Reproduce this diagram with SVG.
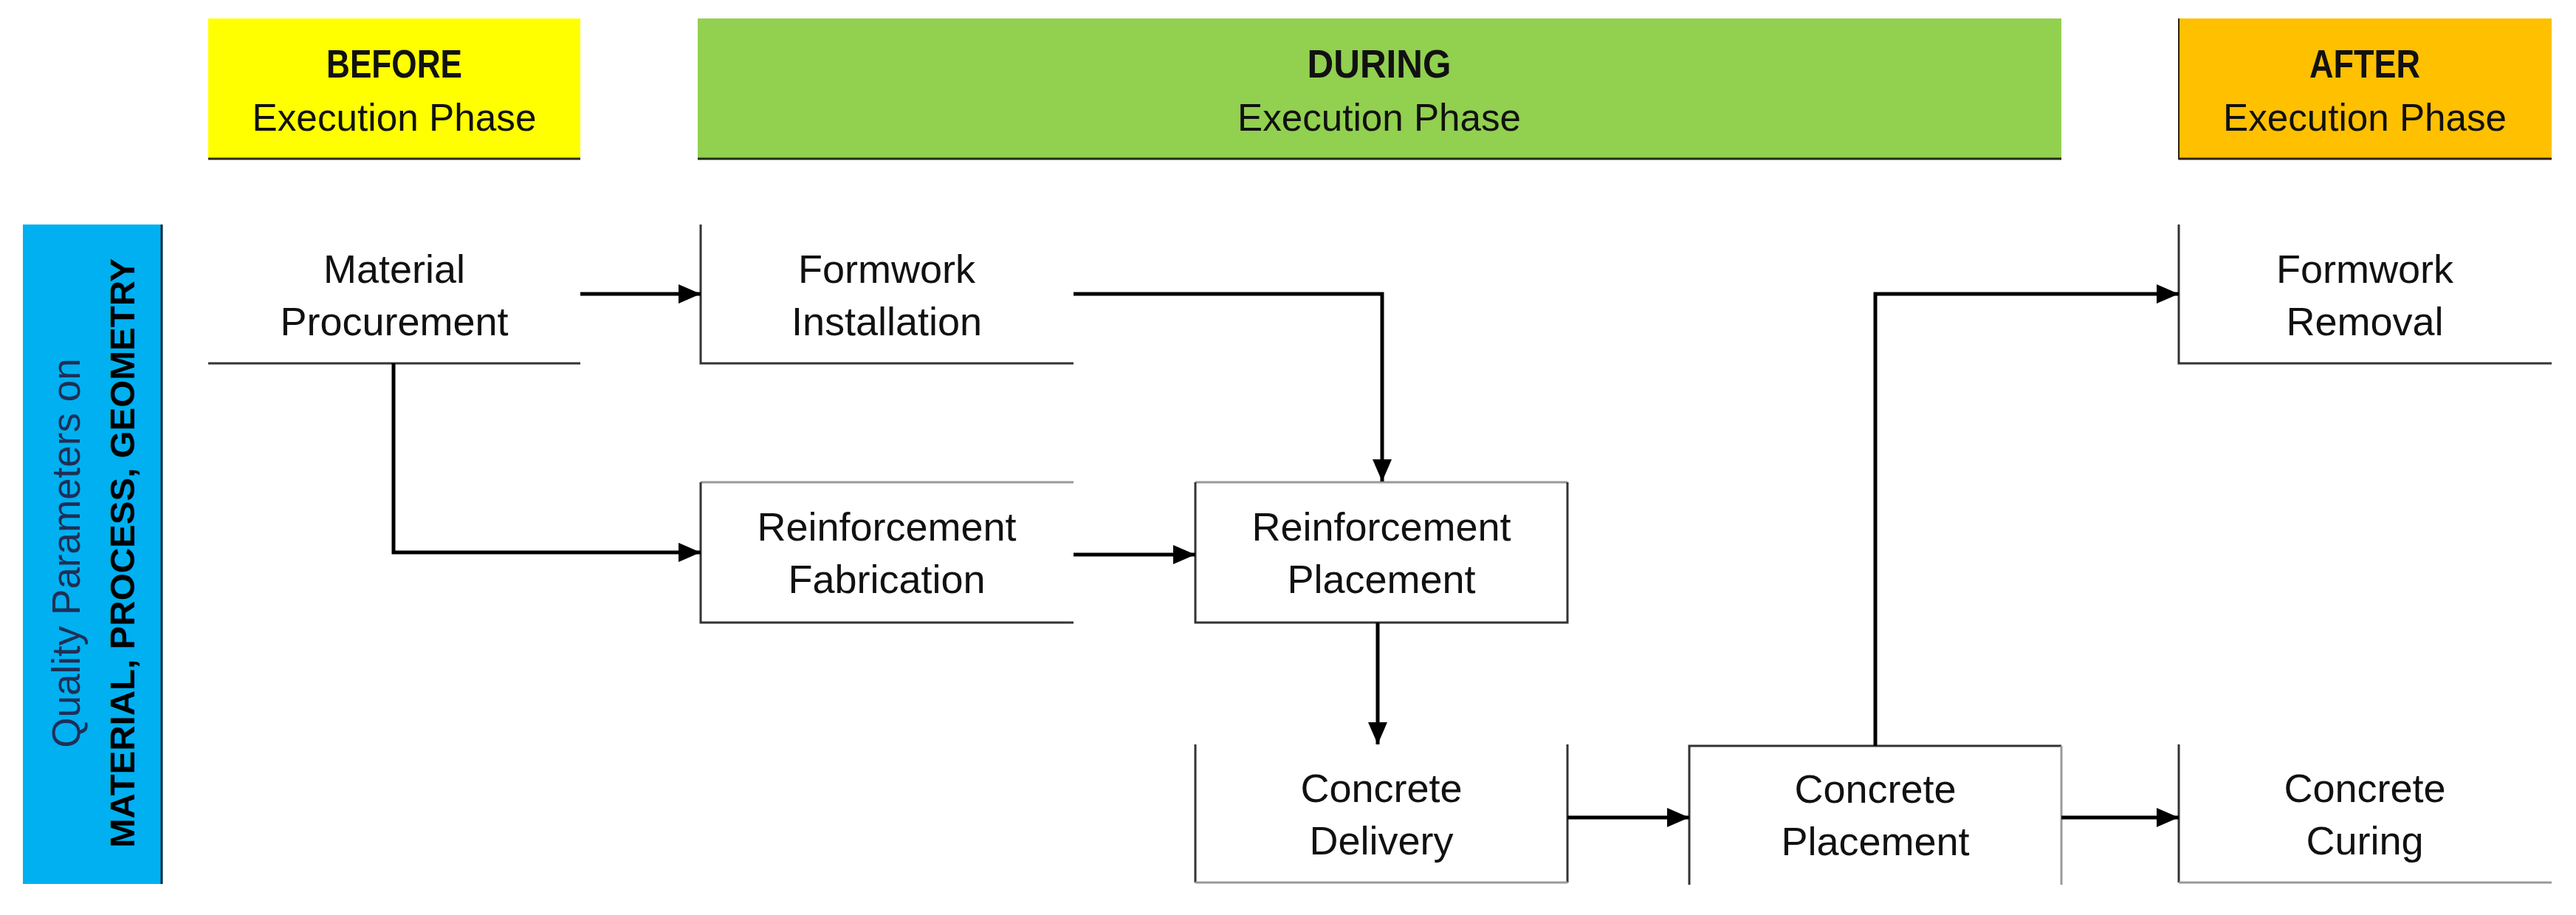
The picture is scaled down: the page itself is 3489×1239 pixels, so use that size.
<svg xmlns="http://www.w3.org/2000/svg" width="3489" height="1239" viewBox="0 0 3489 1239">
<style>
  .node text { font-family: "Liberation Sans", Arial, sans-serif; font-size: 54px; fill: #111; text-anchor: middle; }
  .hdr-title { font-family: "Liberation Sans", Arial, sans-serif; font-size: 54px; font-weight: bold; fill: #111; text-anchor: middle; }
  .hdr-sub { font-family: "Liberation Sans", Arial, sans-serif; font-size: 52px; fill: #111; text-anchor: middle; }
  .edge { fill: none; stroke: #333; stroke-width: 3; }
  .edge-light { fill: none; stroke: #9a9a9a; stroke-width: 3; }
  .conn { fill: none; stroke: #000; stroke-width: 5; }
  .side1 { font-family: "Liberation Sans", Arial, sans-serif; font-size: 53px; fill: #1f2f55; text-anchor: middle; }
  .side2 { font-family: "Liberation Sans", Arial, sans-serif; font-size: 47px; font-weight: bold; fill: #000; text-anchor: middle; }
</style>
<defs>
  <marker id="arrow" markerUnits="userSpaceOnUse" markerWidth="32" markerHeight="28" refX="30" refY="13" orient="auto">
    <path d="M0,0 L30,13 L0,26 Z" fill="#000"/>
  </marker>
</defs>
<rect width="3489" height="1239" fill="#ffffff"/>

<g id="header-before">
  <rect x="282" y="25" width="504" height="191" fill="#FFFF00"/>
  <line x1="282" y1="215" x2="786" y2="215" stroke="#2a2a10" stroke-width="3"/>
  <text class="hdr-title" x="534" y="105" textLength="184" lengthAdjust="spacingAndGlyphs">BEFORE</text>
  <text class="hdr-sub" x="534" y="177" textLength="385" lengthAdjust="spacingAndGlyphs">Execution Phase</text>
</g>
<g id="header-during">
  <rect x="945" y="25" width="1847" height="191" fill="#92D050"/>
  <line x1="945" y1="215" x2="2792" y2="215" stroke="#1f2a12" stroke-width="3"/>
  <text class="hdr-title" x="1868" y="105" textLength="195" lengthAdjust="spacingAndGlyphs">DURING</text>
  <text class="hdr-sub" x="1868" y="177" textLength="384" lengthAdjust="spacingAndGlyphs">Execution Phase</text>
</g>
<g id="header-after">
  <rect x="2951" y="25" width="505" height="191" fill="#FFC000"/>
  <line x1="2951" y1="215" x2="3456" y2="215" stroke="#2e2208" stroke-width="3"/>
  <line x1="2951" y1="25" x2="2951" y2="216" stroke="#2e2208" stroke-width="2"/>
  <text class="hdr-title" x="3203" y="105" textLength="150" lengthAdjust="spacingAndGlyphs">AFTER</text>
  <text class="hdr-sub" x="3203" y="177" textLength="384" lengthAdjust="spacingAndGlyphs">Execution Phase</text>
</g>

<g id="side-bar">
  <rect x="31" y="304" width="189" height="893" fill="#00B0F0"/>
  <line x1="219" y1="304" x2="219" y2="1197" stroke="#0b2a40" stroke-width="3"/>
  <text class="side1" transform="translate(108,749) rotate(-90)">Quality Parameters on</text>
  <text class="side2" transform="translate(182,749) rotate(-90)" textLength="798" lengthAdjust="spacingAndGlyphs">MATERIAL, PROCESS, GEOMETRY</text>
</g>

<g id="node-material-procurement" class="node">
  <line class="edge" x1="282" y1="492" x2="786" y2="492"/>
  <text x="534" y="383">Material</text>
  <text x="534" y="454">Procurement</text>
</g>
<g id="node-formwork-installation" class="node">
  <path class="edge" d="M949,304 V492 H1454"/>
  <text x="1201" y="383">Formwork</text>
  <text x="1201" y="454">Installation</text>
</g>
<g id="node-reinforcement-fabrication" class="node">
  <line class="edge-light" x1="949" y1="653" x2="1454" y2="653"/>
  <path class="edge" d="M949,653 V843 H1454"/>
  <text x="1201" y="732">Reinforcement</text>
  <text x="1201" y="803">Fabrication</text>
</g>
<g id="node-reinforcement-placement" class="node">
  <line class="edge-light" x1="1619" y1="653" x2="2123" y2="653"/>
  <path class="edge" d="M1619,653 V843 H2123 V653"/>
  <text x="1871" y="732">Reinforcement</text>
  <text x="1871" y="803">Placement</text>
</g>
<g id="node-concrete-delivery" class="node">
  <path class="edge" d="M1619,1008 V1195"/>
  <path class="edge" d="M2123,1008 V1195"/>
  <line class="edge-light" x1="1619" y1="1195" x2="2123" y2="1195"/>
  <text x="1871" y="1086">Concrete</text>
  <text x="1871" y="1157">Delivery</text>
</g>
<g id="node-concrete-placement" class="node">
  <path class="edge" d="M2288,1198 V1010 H2792"/>
  <line class="edge-light" x1="2792" y1="1010" x2="2792" y2="1198"/>
  <text x="2540" y="1087">Concrete</text>
  <text x="2540" y="1158">Placement</text>
</g>
<g id="node-formwork-removal" class="node">
  <path class="edge" d="M2951,304 V492 H3456"/>
  <text x="3203" y="383">Formwork</text>
  <text x="3203" y="454">Removal</text>
</g>
<g id="node-concrete-curing" class="node">
  <path class="edge" d="M2951,1008 V1195"/>
  <line class="edge-light" x1="2951" y1="1195" x2="3456" y2="1195"/>
  <text x="3203" y="1086">Concrete</text>
  <text x="3203" y="1157">Curing</text>
</g>

<g id="connectors">
  <path class="conn" d="M786,398 H949" marker-end="url(#arrow)"/>
  <path class="conn" d="M533,492 V748 H949" marker-end="url(#arrow)"/>
  <path class="conn" d="M1454,398 H1872 V652" marker-end="url(#arrow)"/>
  <path class="conn" d="M1454,751 H1619" marker-end="url(#arrow)"/>
  <path class="conn" d="M1866,843 V1008" marker-end="url(#arrow)"/>
  <path class="conn" d="M2123,1107 H2288" marker-end="url(#arrow)"/>
  <path class="conn" d="M2540,1010 V398 H2951" marker-end="url(#arrow)"/>
  <path class="conn" d="M2792,1107 H2951" marker-end="url(#arrow)"/>
</g>
</svg>
